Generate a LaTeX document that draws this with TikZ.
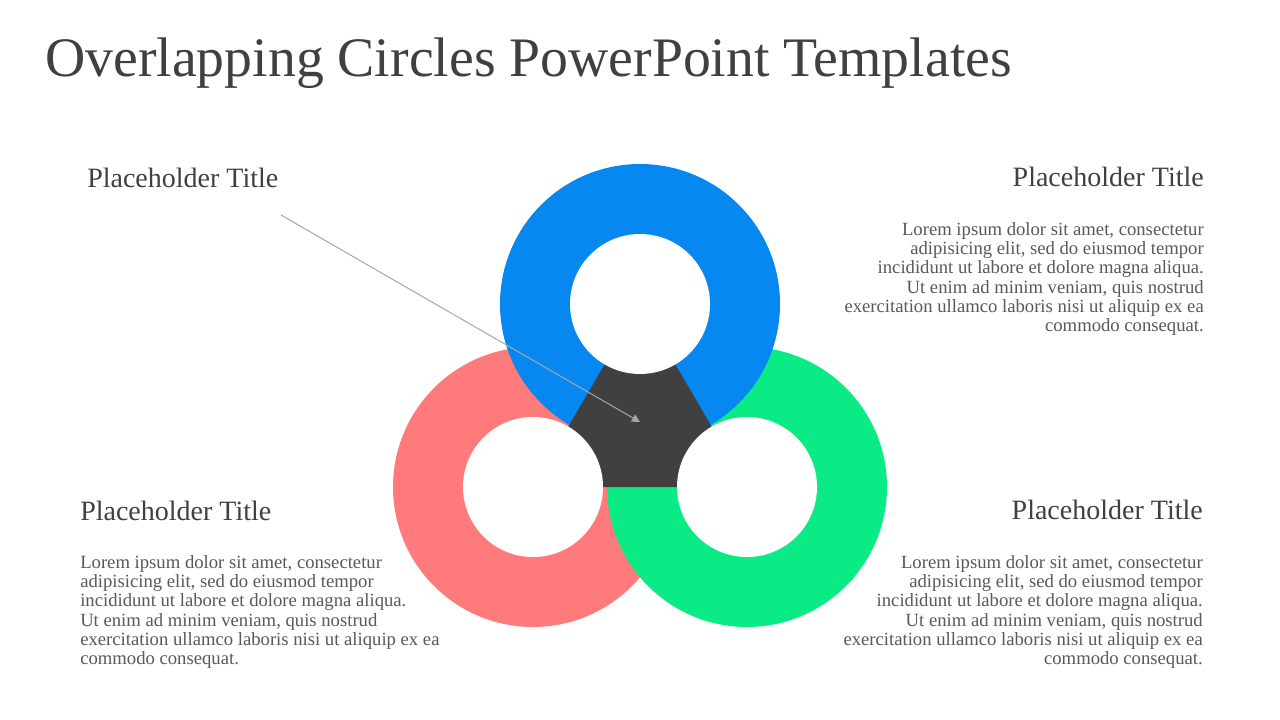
\documentclass[tikz,border=0pt]{standalone}
\usepackage{fontspec}
\setmainfont{Liberation Serif}
\usetikzlibrary{arrows.meta}
\definecolor{ringblue}{HTML}{0788F0}
\definecolor{ringred}{HTML}{FF7B7B}
\definecolor{ringgreen}{HTML}{0BEB85}
\definecolor{hubgray}{HTML}{404040}
\definecolor{headgray}{HTML}{404040}
\definecolor{bodygray}{HTML}{595959}
\newcommand{\placeholderbody}{Lorem ipsum dolor sit amet, consectetur\\
  adipisicing elit, sed do eiusmod tempor\\
  incididunt ut labore et dolore magna aliqua.\\
  Ut enim ad minim veniam, quis nostrud\\
  exercitation ullamco laboris nisi ut aliquip ex ea\\
  commodo consequat.}
\begin{document}
\begin{tikzpicture}[x=0.75pt,y=-0.75pt,
  every node/.style={inner sep=0pt,text=headgray},
  head/.style={font=\fontsize{21}{24}\selectfont},
  body/.style={font=\fontsize{14}{14.5}\selectfont,text=bodygray}]
\useasboundingbox (0,0) rectangle (1280,720);
\fill[white] (0,0) rectangle (1280,720);
% ring centres
\coordinate (cb) at (640,304);
\coordinate (cr) at (533,487);
\coordinate (cg) at (747,487);
% red under green under blue, hub on top, holes last
\fill[ringred] (cr) circle[radius=140];
\fill[ringgreen] (cg) circle[radius=140];
\fill[ringblue] (cb) circle[radius=140];
\fill[hubgray] (cb) -- (cr) -- (cg) -- cycle;
\foreach \c in {cb,cr,cg} \fill[white] (\c) circle[radius=70];
\node[anchor=base west,font=\fontsize{41.8}{48}\selectfont] (maintitle) at (45,77) {Overlapping Circles PowerPoint Templates};
\node[head,anchor=base west] (tltitle) at (87,188) {Placeholder Title};
\node[head,anchor=base east] (trtitle) at (1204,187) {Placeholder Title};
\node[body,anchor=north east,align=right] (trtext) at (1204,222) {\placeholderbody};
\node[head,anchor=base west] (bltitle) at (80,520) {Placeholder Title};
\node[body,anchor=north west,align=left] (bltext) at (80,555) {\placeholderbody};
\node[head,anchor=base east] (brtitle) at (1203,519) {Placeholder Title};
\node[body,anchor=north east,align=right] (brtext) at (1203,555) {\placeholderbody};
% pointer into the hub
\coordinate (ptrstart) at (281,215);
\coordinate (hub) at (640,422);
\draw[-{Triangle[length=6pt,width=6pt]},gray!70,line width=0.75pt] (ptrstart) -- (hub);
\end{tikzpicture}
\end{document}
